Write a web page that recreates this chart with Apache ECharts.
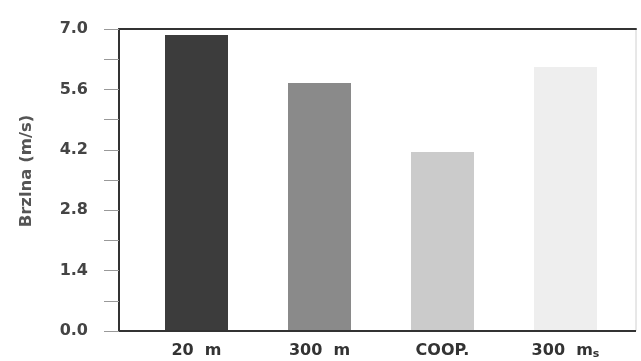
<!DOCTYPE html>
<html>
<head>
<meta charset="utf-8">
<script src="https://cdn.jsdelivr.net/npm/echarts@6/dist/echarts.min.js"></script>
<style>
html,body{margin:0;padding:0;background:#fff;}
#main{width:641px;height:361px;}
</style>
</head>
<body>
<div id="main"></div>
<script>
// podaci
var kategorije = ['20  m', '300  m', 'COOP.', '300  m{s|s}'];
var brzine = [6.86, 5.75, 4.15, 6.12];
var boje = ['#3c3c3c', '#8a8a8a', '#cbcbcb', '#eeeeee'];
var yMin = 0, yMax = 7.0, yKorak = 0.7;

var font = 'DejaVu Sans';
var myChart = echarts.init(document.getElementById('main'));

var podaciBar = [];
for (var i = 0; i < brzine.length; i++) {
    podaciBar.push({value: brzine[i], itemStyle: {color: boje[i]}});
}

var option = {
    backgroundColor: '#fff',
    animation: false,
    grid: [
        {left: 119, right: 5, top: 29, bottom: 30, show: true, borderColor: '#d0d0d0', borderWidth: 1, outerBoundsMode: 'none'},
        {left: 135, right: 14, top: 29, bottom: 30, outerBoundsMode: 'none'}
    ],
    xAxis: [
        {
            gridIndex: 0, type: 'value', position: 'top', min: 0, max: 1,
            axisLine: {show: true, onZero: false, lineStyle: {color: '#333', width: 2}},
            axisTick: {show: false}, axisLabel: {show: false}, splitLine: {show: false}
        },
        {
            gridIndex: 1, type: 'category', data: kategorije,
            axisLine: {show: false}, axisTick: {show: false},
            axisLabel: {
                interval: 0, hideOverlap: false,
                margin: 11, color: '#333', fontSize: 16, fontWeight: 'bold', fontFamily: font,
                lineHeight: 18,
                rich: {s: {fontSize: 11, fontWeight: 'bold', fontFamily: font, color: '#333', lineHeight: 18, verticalAlign: 'bottom'}}
            }
        }
    ],
    yAxis: [
        {
            gridIndex: 0, type: 'value', min: yMin, max: yMax, interval: yKorak,
            name: 'Brzlna (m/s)', nameLocation: 'middle', nameGap: 84,
            nameTextStyle: {color: '#555', fontSize: 16.5, fontWeight: 'bold', fontFamily: font, padding: [0, 0, 0, 18]},
            axisLine: {show: true, lineStyle: {color: '#333', width: 2}},
            axisTick: {show: true, length: 15, lineStyle: {color: '#999', width: 1}},
            axisLabel: {
                margin: 31, color: '#444', fontSize: 16, fontWeight: 'bold', fontFamily: font,
                formatter: function (v) {
                    var k = Math.round(v / yKorak);
                    return k % 2 === 0 ? (k * yKorak).toFixed(1) : '';
                }
            },
            splitLine: {show: false}
        },
        {
            gridIndex: 1, type: 'value', min: yMin, max: yMax, show: false
        }
    ],
    series: [
        {
            type: 'bar', xAxisIndex: 1, yAxisIndex: 1,
            data: podaciBar, barWidth: 63
        },
        {
            // donja os preko stupaca
            type: 'line', xAxisIndex: 0, yAxisIndex: 0, data: [[0, 0], [1, 0]],
            symbol: 'none', lineStyle: {color: '#333', width: 2}, z: 5
        }
    ]
};
myChart.setOption(option);
</script>
</body>
</html>
